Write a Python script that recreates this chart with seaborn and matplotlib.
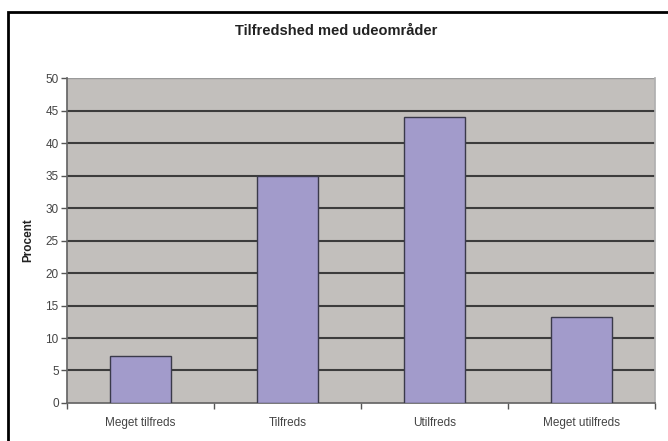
import matplotlib
matplotlib.use("Agg")
import matplotlib.pyplot as plt
import seaborn as sns
import pandas as pd
from matplotlib.patches import Rectangle

categories = ["Meget tilfreds", "Tilfreds", "Utilfreds", "Meget utilfreds"]
values = [7.2, 35, 44, 13.3]
yticks = [0, 5, 10, 15, 20, 25, 30, 35, 40, 45, 50]

sns.set_theme(style="white")
plt.rcParams['font.family'] = ['Liberation Sans', 'DejaVu Sans']

df = pd.DataFrame({"cat": categories, "val": values})

fig = plt.figure(figsize=(6.68, 4.41), dpi=100)
ax = fig.add_axes([0.1003, 0.0862, 0.8802, 0.7368])
ax.set_facecolor("#C2BFBC")

sns.barplot(data=df, x="cat", y="val", color="#A29BCB", width=0.42,
            edgecolor="#3a3a4a", linewidth=1.0, saturation=1, ax=ax, zorder=3)

ax.set_ylim(0, 50)
ax.set_xlim(-0.5, 3.5)
ax.set_yticks(yticks)
ax.yaxis.grid(True, color="#3c3c3c", linewidth=1.5, zorder=0)
ax.set_axisbelow(True)
gl = ax.get_ygridlines()
gl[-1].set_color("#9a9a9a")
gl[-1].set_linewidth(1.0)
gl[0].set_visible(False)
ax.tick_params(axis="y", labelsize=8.5, colors="#555555", length=4, direction="out", left=True, width=1, pad=2)
ax.tick_params(axis="x", labelsize=8.5, colors="#555555", length=0, pad=10)
ax.set_xticks([0, 1, 2, 3])
ax.set_xticks([-0.5, 0.5, 1.5, 2.5, 3.5], minor=True)
ax.tick_params(axis="x", which="minor", length=4, bottom=True, direction="out", color="#555555")
for lab in ax.get_yticklabels() + ax.get_xticklabels():
    lab.set_color("#444444")

ax.spines["top"].set_visible(False)
ax.spines["right"].set_color("#b0b0b0")
ax.spines["left"].set_color("#666666")
ax.spines["bottom"].set_color("#666666")

ax.set_xlabel("")
ax.set_ylabel("Procent", fontsize=8.5, fontweight="bold", color="#222222", labelpad=8)
fig.text(0.503, 0.93, "Tilfredshed med udeområder", ha="center", va="center",
         fontsize=10.5, fontweight="bold", color="#222222")

fig.patches.append(Rectangle((0.012, -0.05), 1.1, 0.8225 + 0.05 + 0.15, transform=fig.transFigure,
                             fill=False, edgecolor="black", linewidth=2))
fig.savefig("out.png", dpi=100)
